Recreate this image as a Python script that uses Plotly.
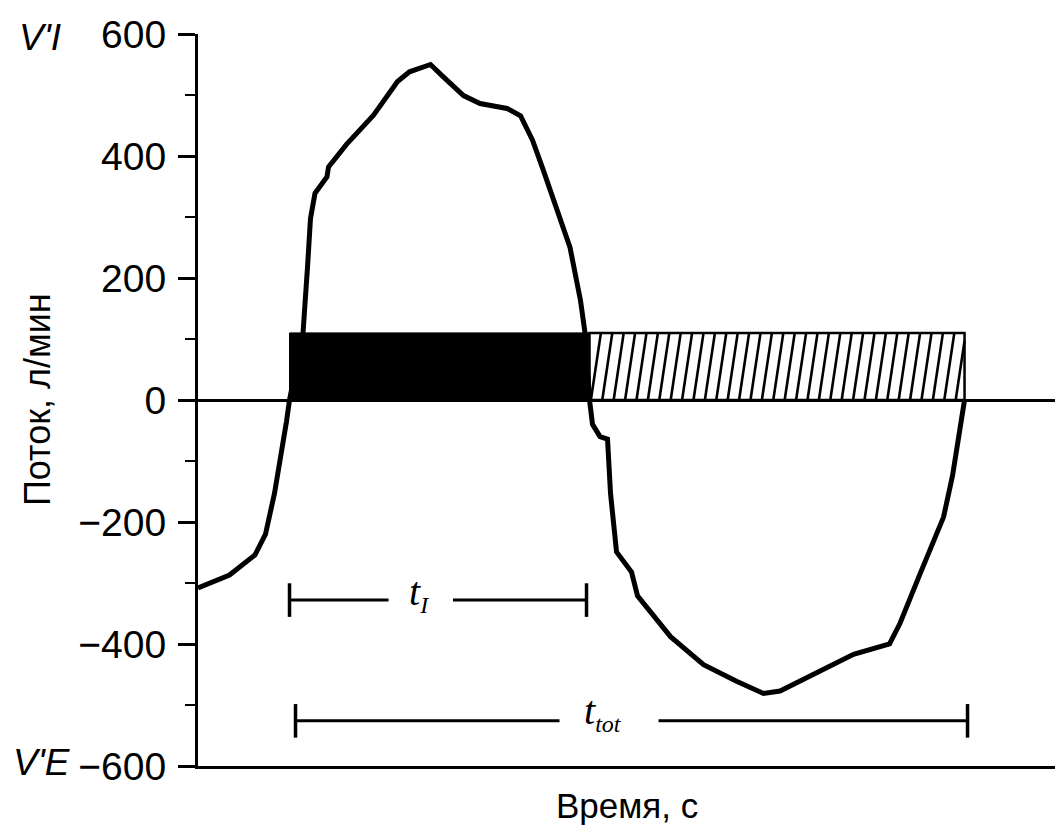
import numpy as np
import plotly.graph_objects as go

# ---------------- data ----------------
time_s = [0.00, 0.21, 0.38, 0.45, 0.51, 0.56, 0.59, 0.61,
          0.66, 0.70, 0.73, 0.75, 0.78, 0.86, 0.87, 0.99, 1.17, 1.33, 1.41, 1.55,
          1.63, 1.77, 1.88, 2.06, 2.15, 2.23, 2.30, 2.39, 2.48, 2.55, 2.58, 2.61,
          2.63, 2.68, 2.73, 2.75, 2.79, 2.89, 2.93, 3.15, 3.37, 3.59, 3.77, 3.88,
          4.15, 4.37, 4.61, 4.68, 4.81, 4.97, 5.03, 5.08, 5.11]
flow_lpm = [-308, -287, -254, -220, -153, -86, -35, 0,
            62, 110, 218, 298, 339, 366, 382, 419, 467, 522, 538, 550,
            531, 499, 486, 478, 466, 426, 378, 314, 250, 163, 110, 0,
            -40, -60, -64, -153, -249, -282, -321, -388, -434, -461, -481, -477,
            -444, -417, -400, -366, -287, -192, -124, -40, 0]

insp_interval = [0.61, 2.61]     # inspiration (black bar)
exp_interval = [2.61, 5.11]      # expiration (hatched bar)
bar_height = 110

ti_span = [0.61, 2.59]
ti_level = -328
ti_gap = [1.27, 1.70]
ti_label_x = 1.47

ttot_span = [0.65, 5.13]
ttot_level = -526
ttot_gap = [2.41, 3.07]
ttot_label_x = 2.70

y_ticks = [-600, -400, -200, 0, 200, 400, 600]

hatch_spacing = 0.076
hatch_shift = 0.067

# ---------------- figure ----------------
fig = go.Figure()

# black inspiration bar
t0, t1 = insp_interval
fig.add_trace(go.Scatter(x=[t0, t0, t1, t1, t0], y=[0, bar_height, bar_height, 0, 0],
                         mode="lines", fill="toself", fillcolor="black",
                         line=dict(color="black", width=1), hoverinfo="skip", showlegend=False))

# hatched expiration bar
e0, e1 = exp_interval
fig.add_trace(go.Scatter(x=[e0, e0, e1, e1, e0], y=[0, bar_height, bar_height, 0, 0],
                         mode="lines", fill="toself", fillcolor="white",
                         line=dict(color="black", width=2.5), hoverinfo="skip", showlegend=False))
hx, hy = [], []
for x0 in np.arange(e0 - hatch_shift, e1, hatch_spacing):
    xa, ya = x0, 0.0
    xb, yb = x0 + hatch_shift, float(bar_height)
    if xa < e0:
        ya = bar_height * (e0 - x0) / hatch_shift
        xa = e0
    if xb > e1:
        yb = bar_height * (e1 - x0) / hatch_shift
        xb = e1
    hx += [xa, xb, None]
    hy += [ya, yb, None]
fig.add_trace(go.Scatter(x=hx, y=hy, mode="lines", line=dict(color="black", width=2.6),
                         hoverinfo="skip", showlegend=False))

# flow curve
fig.add_trace(go.Scatter(x=time_s, y=flow_lpm, mode="lines",
                         line=dict(color="black", width=5), showlegend=False))


def interval(span, gap, level):
    fig.add_trace(go.Scatter(x=[span[0], gap[0], None, gap[1], span[1]],
                             y=[level, level, None, level, level], mode="lines",
                             line=dict(color="black", width=3), hoverinfo="skip",
                             showlegend=False))
    fig.add_trace(go.Scatter(x=[span[0], span[1]], y=[level, level], mode="markers",
                             marker=dict(symbol="line-ns-open", size=24, color="black",
                                         line=dict(color="black", width=3.5)),
                             hoverinfo="skip", showlegend=False))


interval(ti_span, ti_gap, ti_level)
interval(ttot_span, ttot_gap, ttot_level)

sans = "Liberation Sans, Arial, sans-serif"
serif = "Liberation Serif, Times New Roman, serif"

fig.update_layout(
    width=1055, height=829,
    margin=dict(l=198, r=0, t=34, b=63),
    paper_bgcolor="white", plot_bgcolor="white",
    xaxis=dict(range=[0, 5.713], showgrid=False, zeroline=False, showticklabels=False,
               showline=True, linecolor="black", linewidth=3, ticks=""),
    yaxis=dict(range=[-600, 600], tickvals=y_ticks, showgrid=False,
               zeroline=True, zerolinecolor="black", zerolinewidth=2.5,
               showline=True, linecolor="black", linewidth=3,
               ticks="outside", ticklen=17, tickwidth=3, tickcolor="black",
               minor=dict(dtick=100, ticks="outside", ticklen=10, tickwidth=2,
                          tickcolor="black"),
               ticklabelstandoff=4,
               tickfont=dict(family=sans, size=39, color="black")),
    annotations=[
        dict(text="<i>V'I</i>", xref="paper", x=0, xshift=-158, xanchor="center",
             yref="y", y=600, yshift=-3, yanchor="middle",
             showarrow=False, font=dict(family=sans, size=37, color="black")),
        dict(text="<i>V'E</i>", xref="paper", x=0, xshift=-156, xanchor="center",
             yref="y", y=-600, yshift=4, yanchor="middle",
             showarrow=False, font=dict(family=sans, size=37, color="black")),
        dict(text="Поток, л/мин", xref="paper", x=0, xshift=-161, xanchor="center",
             yref="paper", y=0.5, yanchor="middle",
             textangle=-90, showarrow=False, font=dict(family=sans, size=36, color="black")),
        dict(text="Время, с", xref="paper", x=0.5, xanchor="center",
             yref="paper", y=0, yshift=-39, yanchor="middle",
             showarrow=False, font=dict(family=sans, size=35, color="black")),
        dict(text="<i>t</i><sub><span style='font-size:24px'><i>I</i></span></sub>",
             xref="x", x=ti_label_x, yref="y", y=ti_level,
             yshift=7, showarrow=False, font=dict(family=serif, size=40, color="black")),
        dict(text="<i>t</i><sub><span style='font-size:24px'><i>tot</i></span></sub>",
             xref="x", x=ttot_label_x, yref="y",
             y=ttot_level, yshift=8, showarrow=False,
             font=dict(family=serif, size=40, color="black")),
    ],
)

fig.write_html("out.html")
